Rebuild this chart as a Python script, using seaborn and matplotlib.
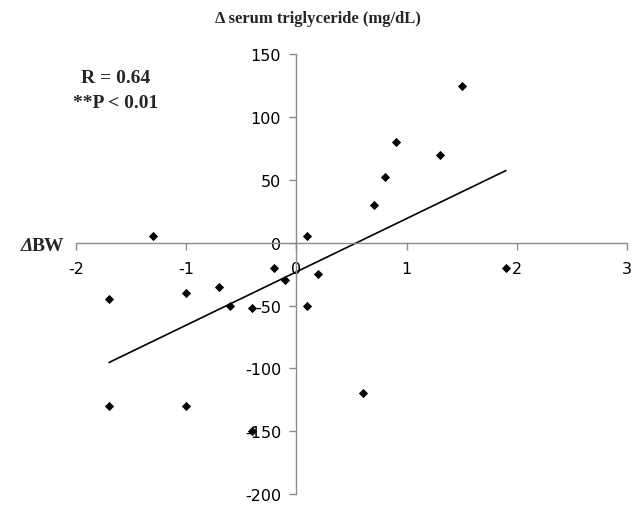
import numpy as np
import pandas as pd
import seaborn as sns
import matplotlib
matplotlib.use("Agg")
import matplotlib.pyplot as plt

delta_bw = [-1.7, -1.3, -1.0, -0.7, -0.6, -0.4, -0.2, -0.1, 0.1, 0.1, 0.2,
            0.7, 0.8, 0.9, 1.3, 1.5, 1.9, -1.7, -1.0, -0.4, 0.6]
delta_tg = [-45, 5, -40, -35, -50, -52, -20, -30, 5, -50, -25,
            30, 52, 80, 70, 125, -20, -130, -130, -150, -120]
x_ticks = [-2, -1, 0, 1, 2, 3]
y_ticks = [-200, -150, -100, -50, 0, 50, 100, 150]

df = pd.DataFrame({"bw": delta_bw, "tg": delta_tg})

sns.set_style("white")
plt.rcParams["axes.unicode_minus"] = False
fig = plt.figure(figsize=(6.36, 5.06), dpi=100)
ax = fig.add_axes([0.1195, 0.0217, 0.8665, 0.8693])

sns.regplot(data=df, x="bw", y="tg", ax=ax, ci=None, truncate=True, marker="D",
            scatter_kws=dict(s=22, color="black", linewidths=0, alpha=1),
            line_kws=dict(color="black", lw=1.2))

ax.set_xlim(-2, 3)
ax.set_ylim(-200, 150)
ax.set_xticks(x_ticks)
ax.set_yticks(y_ticks)
ax.set_xlabel("")
ax.set_ylabel("")

gray = "#8c8c8c"
ax.spines["left"].set_position(("data", 0))
ax.spines["bottom"].set_position(("data", 0))
ax.spines["right"].set_visible(False)
ax.spines["top"].set_visible(False)
for s in ("left", "bottom"):
    ax.spines[s].set_color(gray)
    ax.spines[s].set_linewidth(1.0)
ax.tick_params(axis="both", direction="out", length=5, width=1, color=gray,
               labelsize=11.5, labelcolor="black")
ax.tick_params(axis="x", bottom=True, pad=8)
ax.tick_params(axis="y", left=True, pad=6)
for lab in ax.get_xticklabels() + ax.get_yticklabels():
    lab.set_family("DejaVu Sans")

fig.text(0.5, 0.962, "Δ serum triglyceride (mg/dL)", ha="center", va="center",
         fontsize=12, fontweight="bold", family="Liberation Serif")
fig.text(0.182, 0.845, "R = 0.64", ha="center", va="center",
         fontsize=14, fontweight="bold", family="Liberation Serif")
fig.text(0.182, 0.796, "**P < 0.01", ha="center", va="center",
         fontsize=14, fontweight="bold", family="Liberation Serif")
bw = fig.text(0.1006, 0.513, "BW", ha="right", va="center",
              fontsize=14, fontweight="bold", family="Liberation Serif")
fig.canvas.draw()
bb = bw.get_window_extent(fig.canvas.get_renderer())
fig.text(bb.x0 / fig.bbox.width + 0.002, 0.513, "Δ", ha="right", va="center",
         fontsize=14, fontweight="bold", style="italic", family="Liberation Serif")

fig.savefig("out.png", dpi=100)
